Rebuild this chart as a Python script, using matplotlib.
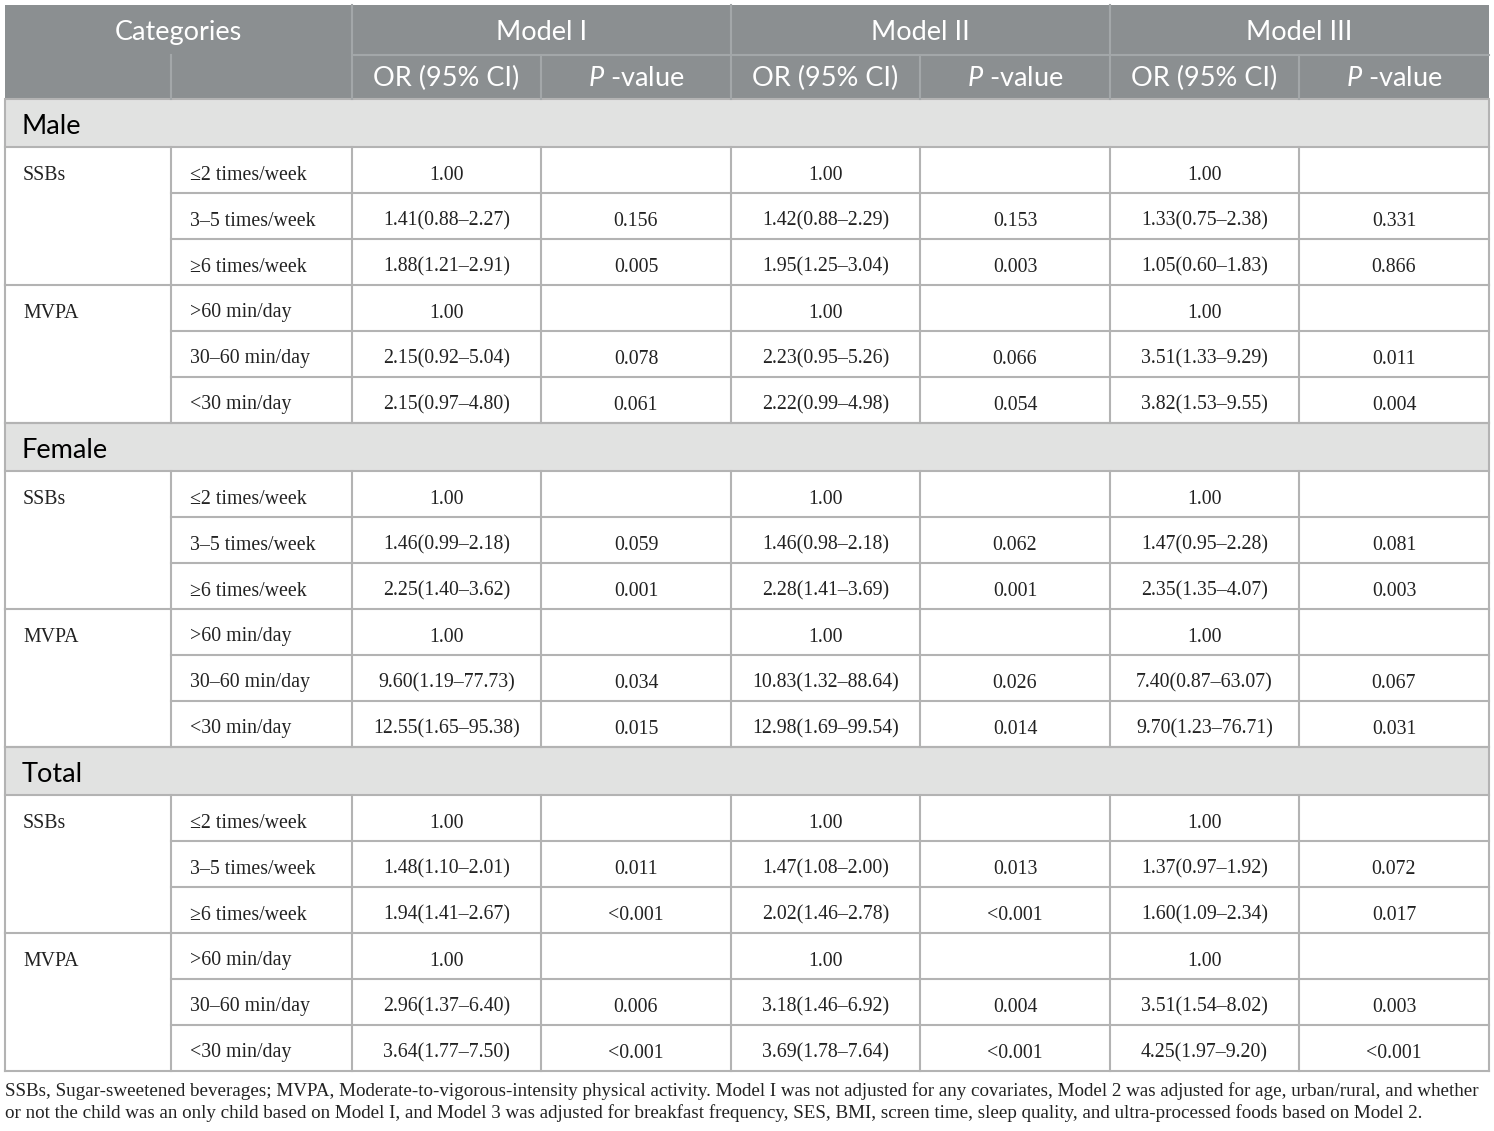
import matplotlib.pyplot as plt
from matplotlib.patches import Rectangle

plt.rcParams['mathtext.fontset'] = 'custom'
plt.rcParams['mathtext.rm'] = 'Lato'
plt.rcParams['mathtext.it'] = 'Lato:italic'

# ---- data ----
sections = ["Male", "Female", "Total"]
groups = ["SSBs", "MVPA"]
levels = ["\u22642 times/week", "3\u20135 times/week", "\u22656 times/week",
          ">60 min/day", "30\u201360 min/day", "<30 min/day"]
models = ["Model I", "Model II", "Model III"]

# OR (95% CI) per section, per model, per level
or_ci = {
    "Male": [
        ["1.00", "1.41(0.88\u20132.27)", "1.88(1.21\u20132.91)", "1.00", "2.15(0.92\u20135.04)", "2.15(0.97\u20134.80)"],
        ["1.00", "1.42(0.88\u20132.29)", "1.95(1.25\u20133.04)", "1.00", "2.23(0.95\u20135.26)", "2.22(0.99\u20134.98)"],
        ["1.00", "1.33(0.75\u20132.38)", "1.05(0.60\u20131.83)", "1.00", "3.51(1.33\u20139.29)", "3.82(1.53\u20139.55)"],
    ],
    "Female": [
        ["1.00", "1.46(0.99\u20132.18)", "2.25(1.40\u20133.62)", "1.00", "9.60(1.19\u201377.73)", "12.55(1.65\u201395.38)"],
        ["1.00", "1.46(0.98\u20132.18)", "2.28(1.41\u20133.69)", "1.00", "10.83(1.32\u201388.64)", "12.98(1.69\u201399.54)"],
        ["1.00", "1.47(0.95\u20132.28)", "2.35(1.35\u20134.07)", "1.00", "7.40(0.87\u201363.07)", "9.70(1.23\u201376.71)"],
    ],
    "Total": [
        ["1.00", "1.48(1.10\u20132.01)", "1.94(1.41\u20132.67)", "1.00", "2.96(1.37\u20136.40)", "3.64(1.77\u20137.50)"],
        ["1.00", "1.47(1.08\u20132.00)", "2.02(1.46\u20132.78)", "1.00", "3.18(1.46\u20136.92)", "3.69(1.78\u20137.64)"],
        ["1.00", "1.37(0.97\u20131.92)", "1.60(1.09\u20132.34)", "1.00", "3.51(1.54\u20138.02)", "4.25(1.97\u20139.20)"],
    ],
}
pvals = {
    "Male": [
        ["", "0.156", "0.005", "", "0.078", "0.061"],
        ["", "0.153", "0.003", "", "0.066", "0.054"],
        ["", "0.331", "0.866", "", "0.011", "0.004"],
    ],
    "Female": [
        ["", "0.059", "0.001", "", "0.034", "0.015"],
        ["", "0.062", "0.001", "", "0.026", "0.014"],
        ["", "0.081", "0.003", "", "0.067", "0.031"],
    ],
    "Total": [
        ["", "0.011", "<0.001", "", "0.006", "<0.001"],
        ["", "0.013", "<0.001", "", "0.004", "<0.001"],
        ["", "0.072", "0.017", "", "0.003", "<0.001"],
    ],
}
footnote = [
    "SSBs, Sugar-sweetened beverages; MVPA, Moderate-to-vigorous-intensity physical activity. "
    "Model I was not adjusted for any covariates, Model 2 was adjusted for age, urban/rural, and whether",
    "or not the child was an only child based on Model I, and Model 3 was adjusted for breakfast "
    "frequency, SES, BMI, screen time, sleep quality, and ultra-processed foods based on Model 2.",
]

# ---- layout (pixels) ----
W, H = 1494, 1131
cols = [5, 171, 352, 541, 731, 920, 1110, 1299, 1489]
head1, head2, head_end = 5, 55, 99
sec_h, row_h = 48, 46

head_bg = "#8b8f91"
head_line = "#a3a7a9"
sec_bg = "#e1e2e1"
line_c = "#b3b3b3"
txt_c = "#222222"
sans = "Lato"
serif = "Liberation Serif"

fig = plt.figure(figsize=(W / 100, H / 100), dpi=100)
ax = fig.add_axes([0, 0, 1, 1])
ax.set_xlim(0, W)
ax.set_ylim(H, 0)
ax.axis("off")

# header
ax.add_patch(Rectangle((cols[0], head1), cols[-1] - cols[0], head_end - head1,
                       facecolor=head_bg, edgecolor="none"))
ax.plot([cols[2], cols[-1]], [head2, head2], color=head_line, lw=1.5)
for x in [cols[2], cols[4], cols[6]]:
    ax.plot([x, x], [head1, head_end], color=head_line, lw=1.5)
for x in [cols[1], cols[3], cols[5], cols[7]]:
    ax.plot([x, x], [head2, head_end], color=head_line, lw=1.5)
hfs = 19.5
hkw = dict(color="white", fontsize=hfs, family=sans, ha="center", va="baseline")
ax.text((cols[0] + cols[2]) / 2, head1 + 35, "Categories", **hkw)
for i, m in enumerate(models):
    x0, x1 = cols[2 + 2 * i], cols[4 + 2 * i]
    ax.text((x0 + x1) / 2, head1 + 35, m, **hkw)
    ax.text((cols[2 + 2 * i] + cols[3 + 2 * i]) / 2, head2 + 31, "OR (95% CI)", **hkw)
    ax.text((cols[3 + 2 * i] + cols[4 + 2 * i]) / 2, head2 + 31, "$P$ -value", **hkw)

# body
bfs = 14.3
bkw = dict(color=txt_c, fontsize=bfs, family=serif, va="baseline")
y = head_end
for s in sections:
    ax.add_patch(Rectangle((cols[0], y), cols[-1] - cols[0], sec_h,
                           facecolor=sec_bg, edgecolor=line_c, lw=1.5))
    ax.text(cols[0] + 17, y + 35, s, color="black", fontsize=hfs,
            family=sans, ha="left", va="baseline")
    y += sec_h
    for g_i, g in enumerate(groups):
        gy0 = y
        ax.text(cols[0] + 18, gy0 + 32.5, g, ha="left", **bkw)
        for r in range(3):
            li = g_i * 3 + r
            yb = y + 32.5
            ax.text(cols[1] + 19, yb, levels[li], ha="left", **bkw)
            for m in range(3):
                ax.text((cols[2 + 2 * m] + cols[3 + 2 * m]) / 2, yb, or_ci[s][m][li],
                        ha="center", **bkw)
                ax.text((cols[3 + 2 * m] + cols[4 + 2 * m]) / 2, yb, pvals[s][m][li],
                        ha="center", **bkw)
            y += row_h
            if r < 2:
                ax.plot([cols[1], cols[-1]], [y, y], color=line_c, lw=1.5)
        ax.plot([cols[0], cols[-1]], [y, y], color=line_c, lw=1.5)
        for x in cols:
            ax.plot([x, x], [gy0, y], color=line_c, lw=1.5)

for i, line in enumerate(footnote):
    ax.text(cols[0], 1096 + i * 22.5, line, color=txt_c, fontsize=13.65, family=serif,
            ha="left", va="baseline")

fig.savefig("out.png", dpi=100, facecolor="white")
